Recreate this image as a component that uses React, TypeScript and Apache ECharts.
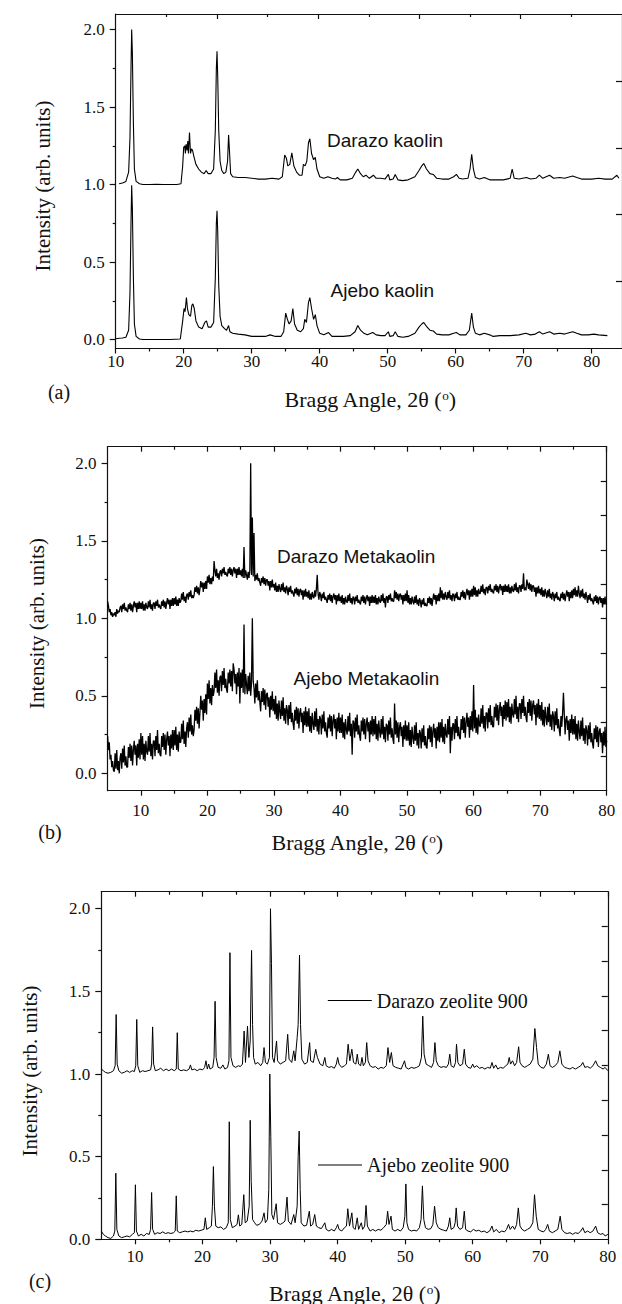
import React, { useEffect, useRef } from "react";
import * as echarts from "echarts";

// ---------- Panel (a): kaolin, [2theta, intensity] ----------
const darazoKaolin: number[][] = [
  [10.5,1.005],[11,1.01],[11.5,1.02],[11.9,1.08],[12.1,1.3],[12.25,1.75],[12.35,2.0],[12.45,1.85],[12.6,1.4],[12.75,1.1],[13,1.02],[13.5,1.005],[14,1.0],[15,1.0],[16,1.002],[17,1.0],[18,1.0],[19,1.0],[19.6,1.005],[19.85,1.12],[20.0,1.24],[20.15,1.25],[20.25,1.2],[20.35,1.26],[20.5,1.22],[20.6,1.28],[20.7,1.2],[20.85,1.335],[21.0,1.2],[21.15,1.23],[21.3,1.22],[21.5,1.18],[21.8,1.13],[22.2,1.1],[22.6,1.08],[23.0,1.07],[23.3,1.09],[23.6,1.07],[24.0,1.07],[24.4,1.1],[24.65,1.35],[24.8,1.75],[24.9,1.86],[25.0,1.7],[25.15,1.35],[25.35,1.15],[25.6,1.09],[25.9,1.07],[26.2,1.08],[26.45,1.15],[26.6,1.32],[26.75,1.2],[26.9,1.07],[27.2,1.05],[28,1.045],[29,1.045],[30,1.04],[31,1.035],[32,1.035],[33,1.04],[34,1.035],[34.5,1.05],[34.85,1.19],[35.1,1.17],[35.3,1.12],[35.6,1.13],[35.9,1.205],[36.2,1.12],[36.6,1.08],[37.0,1.06],[37.4,1.06],[37.6,1.13],[37.85,1.12],[38.1,1.15],[38.35,1.27],[38.55,1.295],[38.8,1.2],[39.1,1.16],[39.35,1.175],[39.6,1.1],[40,1.05],[40.6,1.04],[41.2,1.05],[41.8,1.04],[42.3,1.035],[42.6,1.045],[43,1.03],[44,1.03],[44.8,1.04],[45.3,1.08],[45.6,1.1],[46,1.07],[46.4,1.05],[46.8,1.06],[47.3,1.04],[47.9,1.06],[48.3,1.04],[49,1.04],[49.6,1.035],[50.1,1.065],[50.3,1.03],[50.8,1.035],[51.1,1.065],[51.5,1.03],[52.2,1.025],[53,1.03],[54,1.05],[54.6,1.09],[55.0,1.12],[55.3,1.135],[55.7,1.1],[56.2,1.07],[56.7,1.065],[57.2,1.04],[58,1.035],[59,1.035],[59.7,1.05],[60.1,1.065],[60.5,1.04],[61,1.035],[61.8,1.04],[62.1,1.1],[62.35,1.195],[62.6,1.1],[62.9,1.045],[63.5,1.035],[64.2,1.045],[65,1.03],[66,1.03],[67,1.03],[68,1.04],[68.3,1.1],[68.6,1.04],[69.3,1.035],[70.4,1.045],[71,1.035],[71.8,1.04],[72.3,1.06],[72.8,1.04],[73.8,1.06],[74.4,1.04],[75.3,1.045],[76,1.04],[77.2,1.055],[77.8,1.045],[78.5,1.035],[80,1.035],[81,1.04],[82,1.035],[83,1.035],[83.7,1.06],[84,1.04]
];
const ajeboKaolin: number[][] = [
  [10,0.005],[10.5,0.008],[11,0.01],[11.5,0.015],[11.9,0.06],[12.1,0.3],[12.25,0.75],[12.35,0.995],[12.45,0.85],[12.6,0.4],[12.75,0.1],[13,0.02],[13.5,0.003],[14,0.0],[16,0.0],[18,0.0],[19.5,0.003],[19.85,0.12],[20.05,0.2],[20.2,0.18],[20.4,0.27],[20.55,0.2],[20.75,0.16],[21.0,0.15],[21.2,0.22],[21.35,0.23],[21.55,0.2],[21.8,0.12],[22.2,0.08],[22.7,0.07],[23.1,0.11],[23.35,0.12],[23.6,0.08],[24.0,0.08],[24.4,0.11],[24.65,0.4],[24.8,0.75],[24.9,0.83],[25.0,0.7],[25.15,0.35],[25.35,0.15],[25.6,0.09],[26,0.07],[26.3,0.06],[26.6,0.09],[26.8,0.05],[27.2,0.04],[28,0.035],[29,0.03],[30,0.02],[31,0.02],[32,0.02],[32.7,0.03],[33.5,0.02],[34.3,0.02],[34.7,0.05],[35.0,0.17],[35.25,0.13],[35.5,0.1],[35.8,0.12],[36.05,0.2],[36.3,0.1],[36.7,0.06],[37.2,0.05],[37.6,0.07],[37.8,0.13],[38.05,0.11],[38.35,0.24],[38.55,0.27],[38.8,0.2],[39.1,0.13],[39.35,0.16],[39.6,0.09],[40,0.04],[40.6,0.03],[41.3,0.045],[41.8,0.02],[42.5,0.02],[43.5,0.02],[44.5,0.025],[45.2,0.05],[45.6,0.09],[46,0.06],[46.5,0.04],[47,0.03],[47.8,0.045],[48.3,0.03],[49,0.025],[49.6,0.025],[50.1,0.05],[50.3,0.02],[50.8,0.025],[51.1,0.05],[51.5,0.02],[52.2,0.015],[53,0.02],[54,0.04],[54.6,0.08],[55.0,0.1],[55.3,0.11],[55.7,0.085],[56.2,0.06],[56.7,0.055],[57.2,0.035],[58,0.03],[59,0.03],[59.7,0.04],[60.1,0.045],[60.6,0.03],[61.5,0.03],[62.0,0.06],[62.35,0.17],[62.6,0.08],[62.9,0.04],[63.5,0.03],[64.2,0.04],[65,0.03],[65.5,0.02],[66.5,0.025],[68,0.025],[69.3,0.03],[70.3,0.04],[71,0.03],[71.7,0.035],[72.3,0.05],[72.8,0.035],[73.8,0.05],[74.4,0.035],[75.3,0.04],[76,0.035],[77.2,0.05],[77.8,0.04],[78.5,0.03],[79.5,0.03],[80.3,0.035],[81,0.03],[82.3,0.025]
];

// ---------- Panel (b): metakaolin, scanned from 5 deg in 0.125 deg steps (8 readings per degree) ----------
const metaStart = 5;
const metaStep = 0.125;
const darazoMeta: number[] = [
  1.11,1.08,1.04,1.06,1.02,1.04,1.01,1.03, 1.02,1.04,1.01,1.06,1.03,1.05,1.04,1.07, 1.08,1.04,1.09,1.06,1.1,1.05,1.07,1.05,
  1.04,1.09,1.06,1.1,1.05,1.09,1.04,1.08, 1.11,1.07,1.1,1.04,1.1,1.06,1.11,1.06, 1.1,1.06,1.11,1.05,1.09,1.05,1.1,1.07,
  1.06,1.11,1.07,1.12,1.06,1.09,1.05,1.1, 1.1,1.06,1.11,1.08,1.12,1.07,1.09,1.07, 1.06,1.11,1.08,1.12,1.07,1.11,1.06,1.1,
  1.13,1.09,1.12,1.06,1.12,1.08,1.13,1.08, 1.13,1.09,1.14,1.08,1.12,1.08,1.13,1.1, 1.11,1.16,1.12,1.17,1.11,1.14,1.1,1.15,
  1.16,1.12,1.17,1.14,1.18,1.13,1.15,1.13, 1.15,1.2,1.17,1.21,1.16,1.2,1.15,1.19, 1.24,1.2,1.23,1.17,1.23,1.19,1.24,1.19,
  1.27,1.23,1.28,1.22,1.26,1.22,1.27,1.24, 1.37,1.31,1.27,1.32,1.26,1.29,1.25,1.3, 1.31,1.27,1.32,1.29,1.33,1.28,1.3,1.28,
  1.27,1.32,1.29,1.33,1.28,1.32,1.27,1.31, 1.33,1.29,1.32,1.26,1.32,1.28,1.33,1.28, 1.31,1.27,1.32,1.26,1.46,1.26,1.31,1.28,
  1.25,1.3,1.26,1.31,2.0,1.28,1.65,1.27, 1.55,1.24,1.28,1.25,1.29,1.24,1.26,1.23, 1.21,1.26,1.23,1.27,1.22,1.26,1.21,1.25,
  1.25,1.21,1.24,1.18,1.24,1.2,1.25,1.2, 1.22,1.18,1.23,1.17,1.21,1.17,1.22,1.19, 1.17,1.22,1.18,1.23,1.17,1.2,1.16,1.21,
  1.19,1.15,1.2,1.17,1.21,1.16,1.18,1.16, 1.14,1.19,1.16,1.2,1.15,1.19,1.14,1.18, 1.19,1.15,1.18,1.12,1.18,1.14,1.19,1.14,
  1.17,1.13,1.18,1.12,1.16,1.12,1.17,1.14, 1.13,1.18,1.14,1.19,1.28,1.16,1.12,1.17, 1.15,1.11,1.16,1.13,1.17,1.12,1.14,1.12,
  1.1,1.15,1.12,1.16,1.11,1.15,1.1,1.14, 1.16,1.12,1.15,1.09,1.15,1.11,1.16,1.11, 1.14,1.1,1.15,1.09,1.13,1.09,1.14,1.11,
  1.1,1.15,1.11,1.16,1.1,1.13,1.09,1.14, 1.13,1.09,1.14,1.11,1.15,1.1,1.12,1.1, 1.09,1.14,1.11,1.15,1.1,1.14,1.09,1.13,
  1.15,1.11,1.14,1.08,1.14,1.1,1.15,1.1, 1.14,1.1,1.15,1.09,1.13,1.09,1.14,1.11, 1.1,1.15,1.11,1.16,1.1,1.13,1.07,1.14,
  1.14,1.1,1.15,1.12,1.16,1.11,1.13,1.11, 1.11,1.18,1.13,1.17,1.12,1.16,1.11,1.15, 1.16,1.12,1.15,1.09,1.15,1.11,1.16,1.11,
  1.18,1.1,1.15,1.09,1.13,1.09,1.14,1.11, 1.09,1.14,1.1,1.15,1.09,1.12,1.08,1.13, 1.11,1.07,1.12,1.09,1.13,1.08,1.1,1.08,
  1.08,1.13,1.1,1.14,1.09,1.13,1.08,1.12, 1.16,1.12,1.15,1.09,1.15,1.11,1.16,1.11, 1.2,1.13,1.18,1.12,1.16,1.12,1.17,1.14,
  1.12,1.17,1.13,1.18,1.12,1.15,1.11,1.16, 1.15,1.11,1.16,1.13,1.17,1.12,1.14,1.12, 1.12,1.17,1.14,1.18,1.13,1.17,1.12,1.16,
  1.19,1.15,1.18,1.12,1.18,1.14,1.19,1.14, 1.21,1.15,1.2,1.14,1.18,1.14,1.19,1.16, 1.16,1.21,1.17,1.22,1.16,1.19,1.15,1.2,
  1.2,1.16,1.21,1.18,1.22,1.17,1.19,1.17, 1.16,1.21,1.18,1.22,1.17,1.21,1.16,1.2, 1.22,1.18,1.21,1.15,1.21,1.17,1.22,1.17,
  1.21,1.17,1.22,1.16,1.2,1.16,1.21,1.18, 1.17,1.22,1.18,1.23,1.17,1.2,1.16,1.21, 1.21,1.17,1.22,1.19,1.29,1.18,1.2,1.18,
  1.25,1.22,1.19,1.23,1.18,1.22,1.17,1.21, 1.21,1.17,1.2,1.14,1.2,1.16,1.21,1.16, 1.19,1.15,1.2,1.14,1.18,1.14,1.19,1.16,
  1.13,1.18,1.14,1.19,1.13,1.16,1.12,1.17, 1.15,1.11,1.16,1.13,1.17,1.12,1.14,1.12, 1.11,1.16,1.13,1.17,1.12,1.16,1.11,1.15,
  1.18,1.14,1.17,1.11,1.17,1.13,1.18,1.13, 1.19,1.15,1.2,1.14,1.18,1.14,1.21,1.16, 1.13,1.18,1.14,1.19,1.13,1.16,1.12,1.17,
  1.14,1.1,1.15,1.12,1.16,1.11,1.13,1.11, 1.09,1.14,1.11,1.15,1.1,1.14,1.09,1.13, 1.14,1.1,1.13,1.07,1.13,1.09,1.14,1.09,
  1.1
];
const ajeboMeta: number[] = [
  0.24,0.15,0.2,0.09,0.12,0.04,0.08,0.02, 0.01,0.13,0.03,0.15,0.02,0.08,0.0,0.1, 0.13,0.03,0.16,0.07,0.18,0.05,0.11,0.04,
  0.04,0.17,0.1,0.19,0.08,0.18,0.05,0.15, 0.21,0.12,0.18,0.05,0.19,0.1,0.22,0.09, 0.26,0.12,0.24,0.09,0.19,0.08,0.21,0.14,
  0.12,0.24,0.14,0.26,0.11,0.19,0.09,0.21, 0.21,0.11,0.24,0.15,0.28,0.13,0.19,0.12, 0.11,0.24,0.17,0.26,0.15,0.25,0.12,0.22,
  0.27,0.18,0.24,0.11,0.25,0.16,0.28,0.15, 0.28,0.18,0.3,0.15,0.25,0.14,0.27,0.2, 0.2,0.32,0.22,0.34,0.19,0.27,0.17,0.29,
  0.33,0.23,0.36,0.27,0.38,0.25,0.31,0.24, 0.28,0.41,0.34,0.43,0.32,0.42,0.29,0.39, 0.5,0.41,0.47,0.34,0.48,0.39,0.51,0.38,
  0.58,0.48,0.6,0.45,0.55,0.44,0.57,0.5, 0.53,0.65,0.55,0.67,0.52,0.6,0.5,0.62, 0.63,0.53,0.66,0.57,0.68,0.55,0.61,0.54,
  0.52,0.65,0.58,0.67,0.56,0.66,0.53,0.71, 0.67,0.58,0.64,0.51,0.65,0.56,0.68,0.45, 0.65,0.55,0.67,0.52,0.96,0.51,0.64,0.57,
  0.51,0.63,0.53,0.65,0.5,0.58,1.0,0.6, 0.55,0.45,0.58,0.49,0.6,0.47,0.53,0.46, 0.4,0.53,0.46,0.55,0.44,0.54,0.41,0.51,
  0.52,0.43,0.49,0.36,0.5,0.41,0.53,0.4, 0.48,0.38,0.5,0.35,0.45,0.34,0.47,0.4, 0.35,0.47,0.37,0.49,0.34,0.42,0.32,0.44,
  0.41,0.31,0.44,0.35,0.46,0.33,0.39,0.32, 0.28,0.41,0.34,0.43,0.32,0.42,0.29,0.39, 0.42,0.33,0.39,0.26,0.4,0.31,0.43,0.3,
  0.4,0.3,0.42,0.27,0.37,0.26,0.39,0.32, 0.28,0.4,0.3,0.42,0.27,0.35,0.25,0.37, 0.35,0.25,0.38,0.29,0.4,0.27,0.33,0.26,
  0.23,0.36,0.29,0.38,0.27,0.37,0.24,0.34, 0.38,0.29,0.35,0.22,0.36,0.27,0.39,0.26, 0.36,0.26,0.38,0.23,0.33,0.22,0.35,0.28,
  0.25,0.37,0.27,0.39,0.24,0.32,0.12,0.34, 0.33,0.23,0.36,0.27,0.38,0.25,0.31,0.24, 0.21,0.34,0.27,0.36,0.25,0.35,0.22,0.32,
  0.36,0.27,0.33,0.2,0.34,0.25,0.37,0.24, 0.35,0.25,0.37,0.22,0.32,0.21,0.34,0.27, 0.23,0.35,0.25,0.37,0.22,0.3,0.2,0.32,
  0.31,0.21,0.34,0.25,0.36,0.23,0.29,0.22, 0.19,0.45,0.25,0.34,0.23,0.33,0.2,0.3, 0.33,0.24,0.3,0.17,0.31,0.22,0.34,0.21,
  0.31,0.21,0.33,0.18,0.28,0.17,0.3,0.23, 0.19,0.31,0.21,0.33,0.18,0.26,0.16,0.28, 0.26,0.16,0.29,0.2,0.31,0.18,0.24,0.17,
  0.16,0.29,0.22,0.31,0.2,0.3,0.17,0.27, 0.32,0.23,0.29,0.16,0.3,0.21,0.33,0.2, 0.33,0.23,0.35,0.2,0.3,0.19,0.32,0.25,
  0.23,0.35,0.25,0.37,0.13,0.3,0.21,0.32, 0.32,0.22,0.35,0.26,0.37,0.24,0.3,0.23, 0.22,0.35,0.28,0.37,0.26,0.36,0.23,0.33,
  0.39,0.3,0.36,0.23,0.37,0.28,0.4,0.27, 0.57,0.29,0.41,0.26,0.36,0.25,0.38,0.31, 0.3,0.42,0.32,0.44,0.29,0.37,0.27,0.39,
  0.39,0.29,0.42,0.33,0.44,0.31,0.37,0.3, 0.3,0.43,0.36,0.45,0.34,0.44,0.31,0.41, 0.46,0.37,0.43,0.3,0.44,0.35,0.47,0.34,
  0.46,0.36,0.48,0.33,0.43,0.32,0.45,0.38, 0.36,0.48,0.38,0.5,0.35,0.43,0.33,0.45, 0.45,0.35,0.48,0.39,0.5,0.37,0.43,0.36,
  0.33,0.46,0.39,0.48,0.37,0.47,0.34,0.44, 0.47,0.38,0.44,0.31,0.45,0.36,0.48,0.35, 0.44,0.34,0.46,0.31,0.41,0.3,0.43,0.36,
  0.31,0.43,0.33,0.45,0.3,0.38,0.28,0.4, 0.37,0.27,0.4,0.31,0.42,0.29,0.35,0.28, 0.24,0.37,0.3,0.39,0.52,0.38,0.25,0.35,
  0.37,0.28,0.34,0.21,0.35,0.26,0.38,0.25, 0.35,0.25,0.37,0.22,0.32,0.21,0.34,0.27, 0.22,0.34,0.24,0.36,0.21,0.29,0.19,0.31,
  0.28,0.18,0.31,0.22,0.33,0.2,0.26,0.19, 0.16,0.29,0.22,0.31,0.2,0.3,0.17,0.27, 0.29,0.2,0.26,0.13,0.27,0.18,0.3,0.17,
  0.21
];

// ---------- Panel (c): zeolite 900, [2theta, intensity] ----------
const darazoZeolite: number[][] = [
  [5,1.03],[5.3,1.02],[5.6,1.01],[6,1.005],[6.4,1.01],[6.8,1.02],[7.05,1.05],[7.2,1.36],[7.35,1.06],[7.6,1.02],[8,1.005],[8.4,1.01],[8.8,1.02],[9.2,1.01],[9.6,1.02],[9.9,1.015],[10.1,1.05],[10.25,1.33],[10.4,1.05],[10.7,1.01],[11.1,1.02],[11.5,1.015],[11.9,1.02],[12.3,1.025],[12.45,1.06],[12.6,1.285],[12.75,1.06],[13,1.02],[13.4,1.025],[13.8,1.035],[14.2,1.02],[14.6,1.03],[15,1.02],[15.4,1.03],[15.8,1.02],[16.1,1.03],[16.25,1.25],[16.4,1.03],[16.8,1.02],[17.2,1.025],[17.6,1.02],[18.0,1.03],[18.2,1.055],[18.4,1.025],[18.8,1.03],[19.2,1.02],[19.6,1.03],[20.0,1.025],[20.3,1.04],[20.5,1.08],[20.7,1.03],[20.9,1.06],[21.1,1.03],[21.5,1.04],[21.7,1.1],[21.85,1.44],[22.0,1.1],[22.3,1.04],[22.7,1.035],[23.0,1.055],[23.3,1.03],[23.7,1.04],[23.9,1.08],[24.05,1.734],[24.2,1.1],[24.5,1.05],[24.9,1.04],[25.3,1.05],[25.6,1.045],[25.9,1.06],[26.15,1.26],[26.35,1.07],[26.65,1.29],[26.85,1.1],[27.05,1.2],[27.25,1.748],[27.4,1.3],[27.55,1.1],[27.8,1.06],[28.2,1.07],[28.6,1.05],[28.9,1.07],[29.1,1.16],[29.3,1.07],[29.6,1.06],[29.9,1.1],[30.05,2.0],[30.2,1.67],[30.35,1.1],[30.6,1.07],[30.95,1.2],[31.1,1.08],[31.5,1.06],[31.9,1.07],[32.3,1.08],[32.6,1.24],[32.8,1.09],[33.2,1.07],[33.5,1.14],[33.7,1.08],[34.0,1.22],[34.15,1.3],[34.35,1.72],[34.5,1.3],[34.7,1.09],[35.1,1.06],[35.5,1.07],[35.85,1.19],[36.0,1.08],[36.4,1.07],[36.75,1.15],[37.0,1.1],[37.4,1.06],[37.8,1.05],[38.1,1.1],[38.3,1.05],[38.7,1.04],[39.1,1.045],[39.5,1.035],[39.8,1.06],[40.0,1.1],[40.2,1.06],[40.6,1.04],[41.0,1.05],[41.3,1.06],[41.55,1.18],[41.8,1.08],[42.1,1.15],[42.35,1.07],[42.7,1.06],[42.9,1.12],[43.1,1.06],[43.4,1.05],[43.6,1.1],[43.8,1.05],[44.1,1.07],[44.3,1.19],[44.5,1.08],[44.8,1.05],[45.2,1.04],[45.6,1.045],[46.0,1.03],[46.4,1.04],[46.8,1.035],[47.2,1.05],[47.45,1.16],[47.7,1.07],[47.95,1.13],[48.2,1.05],[48.6,1.04],[49,1.035],[49.4,1.03],[49.7,1.06],[49.9,1.08],[50.1,1.04],[50.5,1.03],[50.9,1.04],[51.3,1.035],[51.7,1.04],[52.1,1.05],[52.4,1.1],[52.6,1.35],[52.8,1.12],[53.1,1.06],[53.5,1.05],[53.9,1.04],[54.2,1.07],[54.4,1.19],[54.6,1.08],[54.9,1.05],[55.3,1.04],[55.7,1.045],[56.1,1.04],[56.4,1.06],[56.6,1.12],[56.8,1.05],[57.2,1.04],[57.45,1.07],[57.6,1.18],[57.8,1.07],[58.1,1.05],[58.5,1.06],[58.75,1.15],[58.95,1.06],[59.3,1.04],[59.7,1.035],[60.0,1.06],[60.2,1.04],[60.6,1.05],[61.0,1.035],[61.4,1.04],[61.8,1.03],[62.2,1.04],[62.6,1.035],[62.85,1.07],[63.1,1.035],[63.4,1.055],[63.7,1.03],[64.1,1.04],[64.5,1.035],[64.9,1.05],[65.2,1.06],[65.4,1.1],[65.6,1.06],[65.9,1.08],[66.2,1.05],[66.5,1.07],[66.8,1.165],[67.0,1.07],[67.3,1.05],[67.7,1.04],[68.1,1.05],[68.5,1.06],[68.9,1.09],[69.2,1.275],[69.45,1.16],[69.7,1.06],[70.1,1.04],[70.5,1.035],[70.9,1.06],[71.2,1.12],[71.45,1.05],[71.8,1.04],[72.2,1.05],[72.6,1.07],[72.9,1.14],[73.2,1.06],[73.6,1.04],[74,1.035],[74.4,1.03],[74.8,1.04],[75.2,1.03],[75.6,1.04],[76.0,1.05],[76.3,1.07],[76.6,1.04],[77,1.045],[77.4,1.035],[77.8,1.05],[78.2,1.08],[78.5,1.05],[78.9,1.04],[79.3,1.03],[79.6,1.04],[80,1.02]
];
const ajeboZeolite: number[][] = [
  [5,0.05],[5.3,0.03],[5.6,0.02],[6,0.01],[6.4,0.005],[6.8,0.02],[7.0,0.05],[7.15,0.4],[7.3,0.06],[7.6,0.02],[8,0.01],[8.4,0.015],[8.8,0.02],[9.2,0.015],[9.6,0.03],[9.9,0.04],[10.05,0.33],[10.2,0.05],[10.5,0.02],[10.9,0.03],[11.3,0.02],[11.7,0.035],[12.1,0.03],[12.3,0.06],[12.45,0.283],[12.6,0.06],[12.9,0.03],[13.3,0.04],[13.7,0.035],[14.1,0.045],[14.5,0.035],[14.9,0.04],[15.3,0.035],[15.7,0.04],[15.95,0.05],[16.1,0.263],[16.25,0.05],[16.6,0.04],[17,0.045],[17.4,0.05],[17.8,0.045],[18.2,0.05],[18.6,0.045],[19,0.055],[19.4,0.05],[19.8,0.055],[20.2,0.06],[20.4,0.13],[20.6,0.06],[21.0,0.07],[21.3,0.08],[21.45,0.2],[21.6,0.44],[21.75,0.2],[21.95,0.08],[22.3,0.07],[22.7,0.075],[23.1,0.06],[23.5,0.07],[23.8,0.1],[23.95,0.711],[24.1,0.12],[24.4,0.07],[24.8,0.08],[25.1,0.09],[25.3,0.148],[25.5,0.08],[25.8,0.09],[26.1,0.27],[26.3,0.1],[26.6,0.11],[26.9,0.2],[27.05,0.72],[27.2,0.35],[27.4,0.12],[27.7,0.1],[28.0,0.085],[28.4,0.09],[28.8,0.11],[29.1,0.16],[29.3,0.1],[29.6,0.12],[29.8,0.3],[29.95,1.0],[30.1,0.62],[30.25,0.15],[30.5,0.12],[30.9,0.215],[31.1,0.1],[31.5,0.09],[31.9,0.1],[32.2,0.11],[32.5,0.255],[32.7,0.11],[33.1,0.09],[33.5,0.15],[33.7,0.1],[34.0,0.2],[34.15,0.5],[34.3,0.655],[34.45,0.3],[34.6,0.1],[35,0.08],[35.4,0.085],[35.8,0.17],[36.0,0.08],[36.3,0.09],[36.6,0.15],[36.85,0.08],[37.2,0.07],[37.6,0.065],[38.1,0.1],[38.3,0.06],[38.7,0.05],[39.1,0.06],[39.5,0.05],[39.8,0.07],[40.0,0.09],[40.2,0.06],[40.6,0.05],[41.0,0.07],[41.3,0.08],[41.5,0.185],[41.75,0.08],[42.1,0.16],[42.3,0.07],[42.6,0.06],[42.9,0.13],[43.1,0.06],[43.5,0.1],[43.7,0.06],[44.0,0.08],[44.2,0.205],[44.4,0.08],[44.8,0.05],[45.2,0.06],[45.6,0.05],[46,0.06],[46.4,0.055],[46.8,0.07],[47.2,0.09],[47.4,0.17],[47.6,0.09],[47.9,0.14],[48.1,0.06],[48.5,0.05],[48.9,0.06],[49.3,0.05],[49.7,0.07],[49.95,0.14],[50.1,0.335],[50.25,0.1],[50.5,0.06],[50.9,0.05],[51.3,0.055],[51.7,0.05],[52.1,0.07],[52.35,0.12],[52.55,0.323],[52.75,0.12],[53.0,0.07],[53.4,0.06],[53.8,0.065],[54.1,0.09],[54.35,0.2],[54.6,0.1],[54.9,0.07],[55.3,0.06],[55.7,0.055],[56.1,0.05],[56.4,0.08],[56.6,0.13],[56.8,0.06],[57.2,0.07],[57.4,0.1],[57.55,0.19],[57.75,0.08],[58.1,0.06],[58.5,0.07],[58.75,0.17],[58.95,0.06],[59.3,0.05],[59.7,0.045],[60.1,0.06],[60.5,0.05],[60.9,0.055],[61.3,0.045],[61.7,0.05],[62.1,0.04],[62.5,0.05],[62.85,0.08],[63.1,0.045],[63.5,0.06],[63.9,0.04],[64.3,0.05],[64.7,0.045],[65.0,0.06],[65.3,0.09],[65.55,0.06],[65.9,0.08],[66.2,0.06],[66.5,0.09],[66.75,0.19],[67.0,0.08],[67.3,0.06],[67.7,0.05],[68.1,0.06],[68.5,0.07],[68.9,0.1],[69.15,0.27],[69.4,0.14],[69.7,0.06],[70.1,0.05],[70.5,0.045],[70.8,0.06],[71.1,0.09],[71.35,0.05],[71.8,0.04],[72.2,0.05],[72.6,0.06],[72.95,0.14],[73.2,0.06],[73.6,0.04],[74,0.035],[74.4,0.04],[74.8,0.03],[75.2,0.04],[75.6,0.035],[76.0,0.05],[76.3,0.07],[76.6,0.04],[77,0.05],[77.4,0.04],[77.8,0.05],[78.2,0.08],[78.5,0.04],[78.9,0.03],[79.3,0.035],[79.6,0.02],[80,0.03]
];

// ---------- Tick values ----------
const kaolinXTicks = [10, 20, 30, 40, 50, 60, 70, 80];
const kaolinXMinor = [15, 25, 35, 45, 55, 65, 75];
const scanXTicks = [10, 20, 30, 40, 50, 60, 70, 80];
const scanXMinor = [15, 25, 35, 45, 55, 65, 75];
const intensityTicks = [0, 0.5, 1, 1.5, 2];
const intensityMinor = [0.25, 0.75, 1.25, 1.75];
const kaolinTopTicks = [1, 2, 3, 4];
const kaolinTopMinor = [0.5, 1.5, 2.5, 3.5, 4.5];
const kaolinRightTicks = [1, 2, 3, 4];
const scanRightTicks = [1, 2, 3, 4, 5, 6, 7, 8, 9];

const seriesNames = ["Darazo kaolin", "Ajebo kaolin", "Darazo Metakaolin", "Ajebo Metakaolin", "Darazo zeolite 900", "Ajebo zeolite 900"];
const panelLetters = ["(a)", "(b)", "(c)"];
const xTitle = "Bragg Angle, 2θ (";
const yTitle = "Intensity (arb. units)";

const SERIF = "Liberation Serif";
const SANS = "Liberation Sans";
const INK = "#111";

const layouts = [
  { left: 115.7, top: 14, width: 507, height: 334.5, xMin: 10, xMax: 84.45, yMin: -0.058, yMax: 2.1, labelMargin: 4, lineWidth: 1.1,
    xMajor: kaolinXTicks, xMinor: kaolinXMinor, topMin: 0, topMax: 5, topMajor: kaolinTopTicks, topMinor: kaolinTopMinor, rightMax: 5, rightTicks: kaolinRightTicks },
  { left: 107.6, top: 446.7, width: 499.1, height: 344, xMin: 5, xMax: 80, yMin: -0.112, yMax: 2.107, labelMargin: 11, lineWidth: 1.3,
    xMajor: scanXTicks, xMinor: scanXMinor, topMin: 5, topMax: 80, topMajor: scanXTicks, topMinor: scanXMinor, rightMax: 10, rightTicks: scanRightTicks },
  { left: 101.3, top: 891.7, width: 506.5, height: 347.6, xMin: 5, xMax: 80, yMin: 0, yMax: 2.103, labelMargin: 9, lineWidth: 1,
    xMajor: scanXTicks, xMinor: scanXMinor, topMin: 5, topMax: 80, topMajor: scanXTicks, topMinor: scanXMinor, rightMax: 10, rightTicks: scanRightTicks },
];

function buildOption() {
  const line = { color: INK, width: 1.2 };
  const grid: any[] = [];
  const xAxis: any[] = [];
  const yAxis: any[] = [];
  layouts.forEach((L, p) => {
    const rect = { left: L.left, top: L.top, width: L.width, height: L.height, containLabel: false };
    grid.push({ ...rect }, { ...rect });
    const g = 2 * p;
    xAxis.push(
      { type: "value", gridIndex: g, position: "bottom", min: L.xMin, max: L.xMax,
        axisLine: { show: true, onZero: false, lineStyle: line },
        axisTick: { show: true, length: 5, customValues: L.xMajor, lineStyle: line },
        axisLabel: { show: true, customValues: L.xMajor, margin: L.labelMargin, fontFamily: SERIF, fontSize: 17, color: INK, formatter: (v: number) => String(v) },
        splitLine: { show: false } },
      { type: "value", gridIndex: g, position: "top", min: L.topMin, max: L.topMax,
        axisLine: { show: true, onZero: false, lineStyle: line },
        axisTick: { show: true, inside: true, length: 5, customValues: L.topMajor, lineStyle: line },
        axisLabel: { show: false }, splitLine: { show: false } },
      { type: "value", gridIndex: g + 1, position: "bottom", min: L.xMin, max: L.xMax,
        axisLine: { show: false, onZero: false },
        axisTick: { show: true, length: 3, customValues: L.xMinor, lineStyle: line },
        axisLabel: { show: false }, splitLine: { show: false } },
      { type: "value", gridIndex: g + 1, position: "top", min: L.topMin, max: L.topMax,
        axisLine: { show: false, onZero: false },
        axisTick: { show: true, inside: true, length: 3, customValues: L.topMinor, lineStyle: line },
        axisLabel: { show: false }, splitLine: { show: false } }
    );
    yAxis.push(
      { type: "value", gridIndex: g, position: "left", min: L.yMin, max: L.yMax,
        axisLine: { show: true, onZero: false, lineStyle: line },
        axisTick: { show: true, length: 6, customValues: intensityTicks, lineStyle: line },
        axisLabel: { show: true, customValues: intensityTicks, margin: 11, fontFamily: SERIF, fontSize: 17, color: INK, formatter: (v: number) => v.toFixed(1) },
        splitLine: { show: false } },
      { type: "value", gridIndex: g, position: "right", min: 0, max: L.rightMax,
        axisLine: { show: true, onZero: false, lineStyle: line },
        axisTick: { show: true, inside: true, length: 6, customValues: L.rightTicks, lineStyle: line },
        axisLabel: { show: false }, splitLine: { show: false } },
      { type: "value", gridIndex: g + 1, position: "left", min: L.yMin, max: L.yMax,
        axisLine: { show: false, onZero: false },
        axisTick: { show: true, length: 3, customValues: intensityMinor, lineStyle: line },
        axisLabel: { show: false }, splitLine: { show: false } },
      { type: "value", gridIndex: g + 1, position: "right", min: 0, max: L.rightMax, show: false,
        axisLine: { show: false, onZero: false }, axisTick: { show: false }, axisLabel: { show: false }, splitLine: { show: false } }
    );
  });

  const metaPairs = (vals: number[]) => vals.map((v, i) => [metaStart + i * metaStep, v]);
  const datasets = [darazoKaolin, ajeboKaolin, metaPairs(darazoMeta), metaPairs(ajeboMeta), darazoZeolite, ajeboZeolite];
  const series = datasets.map((data, k) => {
    const p = Math.floor(k / 2);
    return {
      type: "line", name: seriesNames[k], xAxisIndex: 4 * p, yAxisIndex: 4 * p, data,
      symbol: "none", showSymbol: false, silent: true, clip: true,
      lineStyle: { color: "#000", width: layouts[p].lineWidth },
      itemStyle: { color: "#000" },
    };
  });

  const legendCommon = {
    orient: "horizontal", padding: 0, itemWidth: 44, itemHeight: 1.2, icon: "rect", selectedMode: false,
    textStyle: { fontFamily: SERIF, fontSize: 20, color: INK },
  };
  const legend = [
    { ...legendCommon, data: [seriesNames[4]], left: 327.8, top: 990.5 },
    { ...legendCommon, data: [seriesNames[5]], left: 318, top: 1155 },
  ];

  const titleCenters = [
    { xt: [370, 400], yt: [43, 186], letter: [59, 392] },
    { xt: [357, 843], yt: [37, 623.5], letter: [50, 832] },
    { xt: [354.5, 1294], yt: [30, 1071], letter: [40, 1281] },
  ];
  const graphic: any[] = [];
  titleCenters.forEach((c) => {
    graphic.push({
      type: "text", x: c.xt[0], y: c.xt[1], scaleX: 1.1, silent: true,
      style: { text: xTitle + "{sup|o})", fontFamily: SERIF, fontSize: 20, fill: INK, align: "center", verticalAlign: "middle",
        rich: { sup: { fontFamily: SERIF, fontSize: 12, fill: INK, verticalAlign: "top", padding: [0, 0, 8, 0] } } },
    });
    graphic.push({
      type: "text", x: c.yt[0], y: c.yt[1], rotation: Math.PI / 2, silent: true,
      style: { text: yTitle, fontFamily: SERIF, fontSize: 21, fill: INK, align: "center", verticalAlign: "middle" },
    });
  });
  titleCenters.forEach((c, i) => {
    graphic.push({
      type: "text", x: c.letter[0], y: c.letter[1], silent: true,
      style: { text: panelLetters[i], fontFamily: SERIF, fontSize: 20, fill: INK, align: "center", verticalAlign: "middle" },
    });
  });
  const sansLabels = [
    { t: seriesNames[0], x: 327, y: 140 },
    { t: seriesNames[1], x: 330.6, y: 290 },
    { t: seriesNames[2], x: 277, y: 556.5 },
    { t: seriesNames[3], x: 293.6, y: 678.5 },
  ];
  sansLabels.forEach((s) => {
    graphic.push({
      type: "text", x: s.x, y: s.y, silent: true,
      style: { text: s.t, fontFamily: SANS, fontSize: 19, fill: INK, align: "left", verticalAlign: "middle" },
    });
  });

  return { animation: false, backgroundColor: "#fff", textStyle: { fontFamily: SERIF, color: INK }, grid, xAxis, yAxis, series, legend, graphic };
}

export default function App() {
  const ref = useRef<HTMLDivElement>(null);
  useEffect(() => {
    if (!ref.current) return;
    const chart = echarts.init(ref.current, undefined, { renderer: "svg" });
    chart.setOption(buildOption() as any);
    return () => chart.dispose();
  }, []);
  return <div ref={ref} style={{ position: "absolute", left: 0, top: 0, width: 622, height: 1304 }} />;
}
